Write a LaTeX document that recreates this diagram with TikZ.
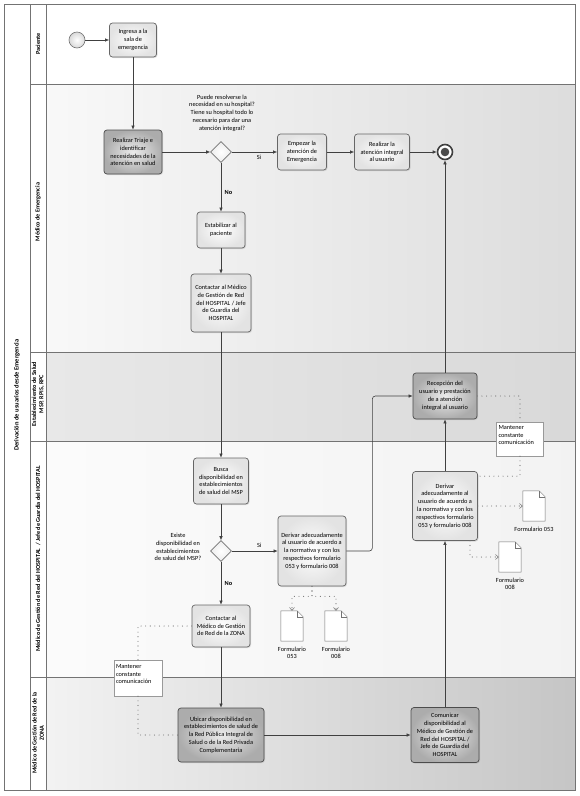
\documentclass[tikz,border=0pt]{standalone}
\usepackage{fontspec}
\setmainfont{Carlito}
\usetikzlibrary{shapes.geometric,arrows.meta,shadows,positioning}

\newcommand\bpmnfont{\fontsize{6.3}{7.8}\selectfont}
\newcommand\folddoc[1]{%
  \draw[draw=black!55, fill=white, line width=0.5pt] (#1.south west) -- (#1.north west)
    -- ([xshift=-6pt]#1.north east) -- ([yshift=-6pt]#1.north east) -- (#1.south east) -- cycle;
  \draw[draw=black!55, line width=0.5pt] ([xshift=-6pt]#1.north east) |- ([yshift=-6pt]#1.north east);}

\begin{document}
\begin{tikzpicture}[x=1pt, y=-1pt,
    lane/.style={draw=black!55, line width=0.7pt},
    lanelbl/.style={rotate=90, align=center, font=\fontsize{6.2}{7.2}\selectfont\bfseries},
    task/.style={draw=black!60, line width=0.7pt, rounded corners=3pt, align=center, font=\bpmnfont, inner sep=1pt,
      inner color=white, outer color=gray!22, drop shadow={opacity=0.25, shadow xshift=1pt, shadow yshift=-1pt}},
    darktask/.style={task, draw=black!70, inner color=gray!15, outer color=gray!65},
    gate/.style={diamond, aspect=1, draw=black!55, line width=0.6pt, inner color=white, outer color=gray!15, minimum size=21, inner sep=0pt},
    inicioev/.style={circle, draw=black!55, line width=0.6pt, inner color=white, outer color=gray!30, minimum size=16, inner sep=0pt},
    finev/.style={circle, draw=black!75, line width=1.6pt, fill=white, minimum size=15, inner sep=0pt,
      path picture={\fill[black!70] (path picture bounding box.center) circle (4.3pt);}},
    note/.style={draw=black!40, fill=white, line width=0.5pt, align=left, font=\bpmnfont, inner sep=1.5pt},
    doc/.style={minimum width=22, minimum height=30, inner sep=0pt},
    txt/.style={align=center, font=\bpmnfont},
    flow/.style={draw=black!75, line width=0.6pt, -{Latex[length=4pt, width=3.5pt]}},
    assoc/.style={draw=black!55, line width=1.1pt, line cap=round, dash pattern=on 0pt off 4.6pt},
    docarrow/.style={assoc, -{Straight Barb[length=3pt, width=5pt, line width=0.5pt]}}
]
\useasboundingbox (0,0) rectangle (579,796);
\fill[white] (4,4) rectangle (575,790);
\shade[left color=gray!5, right color=gray!27] (46,84) rectangle (575,352);
\shade[left color=gray!18, right color=gray!30] (46,352) rectangle (575,441);
\shade[left color=gray!3, right color=gray!10] (46,441) rectangle (575,677);
\shade[left color=gray!10, right color=gray!45] (46,677) rectangle (575,790);
\draw[lane] (4,4) rectangle (575,790);
\draw[lane] (30,4) -- (30,790) (46,4) -- (46,790);
\foreach \y in {84,352,441,677}
  \draw[lane] (30,\y) -- (575,\y);

\node[lanelbl, font=\fontsize{6.5}{7.5}\selectfont\bfseries] (pool) at (17,395) {Derivación de usuarios desde Emergencia};
\node[lanelbl] (lpac) at (38,44) {Paciente};
\node[lanelbl] (lemer) at (38,212) {Médico de Emergencia};
\node[lanelbl] (lest) at (38,394) {Establecimiento de Salud\\MSP, RPIS, RPC};
\node[lanelbl] (lhosp) at (38,559) {Médico de Gestión de Red del HOSPITAL \ / Jefe de Guardia del HOSPITAL};
\node[lanelbl] (lzona) at (38,733) {Médico de Gestión de Red de la\\ZONA};

\node[inicioev] (inicio) at (77,40) {};
\node[task, minimum width=47, minimum height=34] (ingresa) at (133,40) {Ingresa a la\\sala de\\emergencia};
\node[darktask, minimum width=58, minimum height=44] (triaje) at (133,152) {Realizar Triaje e\\identificar\\necesidades de la\\atención en salud};
\node[gate] (dec1) at (221,152) {};
\node[txt] (preg1) at (222,113) {Puede resolverse la\\necesidad en su hospital?\\Tiene su hospital todo lo\\necesario para dar una\\atención integral?};
\node[task, minimum width=49, minimum height=36] (empieza) at (302,152) {Empezar la\\atención de\\Emergencia};
\node[task, minimum width=55, minimum height=36] (atiende) at (382,152) {Realizar la\\atención integral\\al usuario};
\node[finev] (fin) at (445,152) {};
\node[task, minimum width=48, minimum height=36] (estab) at (221,230) {Estabilizar al\\paciente};
\node[task, minimum width=60, minimum height=58] (contH) at (221,303) {Contactar al Médico\\de Gestión de Red\\del HOSPITAL / Jefe\\de Guardia del\\HOSPITAL};

\node[darktask, minimum width=64, minimum height=46] (recep) at (445,396) {Recepción del\\usuario y prestación\\de a atención\\integral al usuario};
\node[note, minimum width=47, minimum height=34, text width=43] (mant1) at (520,439) {Mantener\\constante\\comunicación\\ \mbox{}};
\node[task, minimum width=65, minimum height=69] (deriv2) at (445,506) {Derivar\\adecuadamente al\\usuario de acuerdo a\\la normativa y con los\\respectivos formulario\\053 y formulario 008};
\node[doc, label={[txt, label distance=2pt]below:Formulario 053}] (f053b) at (534,506) {};
\node[doc, label={[txt, label distance=2pt]below:{Formulario\\008}}] (f008b) at (510,557) {};

\node[task, minimum width=55, minimum height=46] (busca) at (221,481) {Busca\\disponibilidad en\\establecimientos\\de salud del MSP};
\node[gate] (dec2) at (221,551) {};
\node[txt] (preg2) at (178,547) {Existe\\disponibilidad en\\establecimientos\\de salud del MSP?};
\node[task, minimum width=68, minimum height=70] (deriv1) at (312,551) {Derivar adecuadamente\\al usuario de acuerdo a\\la normativa y con los\\respectivos formulario\\053 y formulario 008};
\node[task, minimum width=58, minimum height=42] (contZ) at (221,626) {Contactar al\\Médico de Gestión\\de Red de la ZONA};
\node[doc, label={[txt, label distance=2pt]below:{Formulario\\053}}] (f053a) at (292,626) {};
\node[doc, label={[txt, label distance=2pt]below:{Formulario\\008}}] (f008a) at (336,626) {};
\node[note, minimum width=48, minimum height=36, text width=44] (mant2) at (138,678) {Mantener\\constante\\comunicación\\ \mbox{}};

\node[darktask, minimum width=86, minimum height=54] (ubica) at (221,735) {Ubicar disponibilidad en\\establecimientos de salud de\\la Red Pública Integral de\\Salud o de la Red Privada\\Complementaria};
\node[darktask, minimum width=68, minimum height=55] (comun) at (445,735) {Comunicar\\disponibilidad al\\Médico de Gestión de\\Red del HOSPITAL /\\Jefe de Guardia del\\HOSPITAL};

\folddoc{f053b}
\folddoc{f008b}
\folddoc{f053a}
\folddoc{f008a}

\draw[flow] (inicio) -- (ingresa);
\draw[flow] (ingresa) -- (triaje);
\draw[flow] (triaje) -- (dec1);
\draw[flow] (dec1) -- node[pos=0.6, below, font=\bpmnfont] {Si} (empieza);
\draw[flow] (empieza) -- (atiende);
\draw[flow] (atiende) -- (fin);
\draw[flow] (dec1) -- node[pos=0.6, right, font=\bpmnfont\bfseries] {No} (estab);
\draw[flow] (estab) -- (contH);
\draw[flow] (contH) -- (busca);
\draw[flow] (busca) -- (dec2);
\draw[flow] (dec2) -- node[pos=0.6, above, font=\bpmnfont] {Si} (deriv1);
\draw[flow] (dec2) -- node[pos=0.5, right, font=\bpmnfont\bfseries] {No} (contZ);
\draw[flow, rounded corners=3pt] (deriv1.east) -- ++(26,0) |- (recep.west);
\draw[flow] (recep) -- (fin);
\draw[flow] (deriv2) -- (recep);
\draw[flow] (comun) -- (deriv2);
\draw[flow] (contZ) -- (ubica);
\draw[flow] (ubica) -- (comun);

\draw[assoc] (recep) -| (mant1);
\draw[assoc] (mant1) |- ([yshift=-5pt]deriv2.north east);
\draw[docarrow] (deriv2) -- (f053b);
\draw[docarrow] ([xshift=25pt]deriv2.south) |- (f008b);
\draw[docarrow] (deriv1.south) -- ++(0,10) -| (f053a);
\draw[docarrow] (deriv1.south) -- ++(0,10) -| (f008a);
\draw[assoc] (contZ) -| (mant2);
\draw[assoc] (mant2) |- (ubica);
\end{tikzpicture}
\end{document}
